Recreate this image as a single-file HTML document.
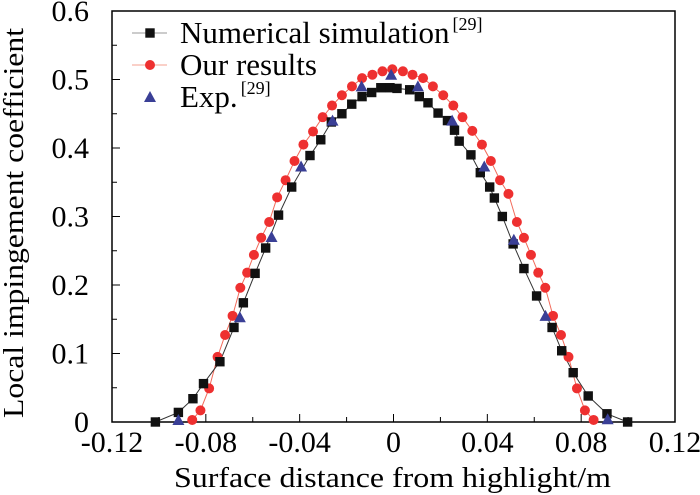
<!DOCTYPE html>
<html><head><meta charset="utf-8"><style>
body{margin:0;background:#fff;}
svg{display:block;}
text{font-family:"Liberation Serif","DejaVu Serif",serif;}
</style></head><body>
<svg id="chart" width="700" height="495" font-family="Liberation Serif, serif"></svg>
<script>
const xTicks=[-0.12,-0.08,-0.04,0,0.04,0.08,0.12];
const xTickLabels=["-0.12","-0.08","-0.04","0","0.04","0.08","0.12"];
const yTicks=[0,0.1,0.2,0.3,0.4,0.5,0.6];
const yTickLabels=["0","0.1","0.2","0.3","0.4","0.5","0.6"];
const numX=[-0.1015,-0.0917,-0.0855,-0.081,-0.074,-0.068,-0.064,-0.059,-0.0545,-0.049,-0.0434,-0.0356,-0.031,-0.0265,-0.022,-0.0178,-0.0134,-0.0093,-0.0054,-0.0015,0.0015,0.0069,0.011,0.0147,0.019,0.023,0.026,0.028,0.033,0.037,0.041,0.043,0.0464,0.051,0.0556,0.061,0.0676,0.0717,0.0766,0.083,0.091,0.0998];
const numY=[0,0.014,0.034,0.056,0.088,0.138,0.174,0.217,0.254,0.302,0.343,0.389,0.412,0.438,0.45,0.464,0.475,0.481,0.488,0.488,0.487,0.485,0.475,0.466,0.451,0.44,0.426,0.41,0.39,0.364,0.343,0.327,0.3,0.26,0.224,0.184,0.138,0.104,0.072,0.038,0.012,0];
const ourX=[-0.0858,-0.0823,-0.0786,-0.075,-0.0718,-0.0686,-0.0653,-0.0624,-0.0595,-0.0564,-0.053,-0.0496,-0.046,-0.0422,-0.0384,-0.0343,-0.0302,-0.0262,-0.022,-0.0177,-0.0134,-0.009,-0.0047,-0.0005,0.004,0.0081,0.0126,0.0168,0.0212,0.0255,0.0294,0.0336,0.0377,0.0415,0.0454,0.049,0.0526,0.0556,0.0586,0.0617,0.0647,0.068,0.0714,0.0746,0.0782,0.0816,0.0853];
const ourY=[0.003,0.017,0.049,0.095,0.127,0.155,0.196,0.218,0.244,0.269,0.292,0.328,0.353,0.381,0.405,0.424,0.445,0.462,0.477,0.49,0.502,0.507,0.512,0.515,0.512,0.507,0.502,0.49,0.477,0.462,0.445,0.425,0.405,0.381,0.353,0.333,0.292,0.269,0.244,0.218,0.196,0.155,0.127,0.095,0.049,0.017,0.003];
const expX=[-0.0917,-0.0655,-0.052,-0.0394,-0.026,-0.0136,-0.001,0.0104,0.025,0.0387,0.0513,0.0648,0.0913];
const expY=[0.003,0.153,0.27,0.373,0.44,0.49,0.507,0.49,0.44,0.373,0.266,0.155,0.004];

const svg=document.getElementById('chart');
const NS='http://www.w3.org/2000/svg';
const L=112,R=675,T=11,B=422;
const sx=v=>L+(v+0.12)/0.24*(R-L);
const sy=v=>B-v/0.6*(B-T);
function mk(tag,attrs,parent){const e=document.createElementNS(NS,tag);for(const k in attrs)e.setAttribute(k,attrs[k]);(parent||svg).appendChild(e);return e;}

const frame=mk('rect',{x:L,y:T,width:R-L,height:B-T,fill:'none',stroke:'#000','stroke-width':1.5});



for(let k=0;k<=12;k++){
  const v=-0.12+k*0.02;const major=k%2===0;
  const t=mk('line',{x1:sx(v),x2:sx(v),y1:B,y2:B-(major?8:5),stroke:'#000','stroke-width':1});
  
  
}
xTicks.forEach((v,i)=>{
  const t=mk('text',{x:sx(v),y:452,'text-anchor':'middle','font-size':30});
  t.textContent=xTickLabels[i];
  
  
});
for(let k=0;k<=12;k++){
  const v=k*0.05;const major=k%2===0;
  const t=mk('line',{x1:L,x2:L+(major?8:5),y1:sy(v),y2:sy(v),stroke:'#000','stroke-width':1});
  
  
}
yTicks.forEach((v,i)=>{
  const t=mk('text',{x:89,y:sy(v)+10,'text-anchor':'end','font-size':30});
  t.textContent=yTickLabels[i];
  
  
});
const xt=mk('text',{x:174,y:487,'font-size':29,textLength:437,lengthAdjust:'spacingAndGlyphs'});
xt.textContent='Surface distance from highlight/m';


const yt=mk('text',{x:0,y:0,'font-size':29,textLength:390,lengthAdjust:'spacingAndGlyphs',transform:'translate(23,418) rotate(-90)'});
yt.textContent='Local impingement coefficient';



function line(xs,ys,color,name){
  const p=mk('polyline',{points:xs.map((x,i)=>sx(x)+','+sy(ys[i])).join(' '),fill:'none',stroke:color,'stroke-width':1});
  
  
}
function square(x,y,name){const e=mk('rect',{x:x-4.7,y:y-4.7,width:9.4,height:9.4,fill:'#111'});
  
  }
function circle(x,y,name){const e=mk('circle',{cx:x,cy:y,r:5,fill:'#ee3030'});
  
  }
function tri(x,y,name){const e=mk('polygon',{points:`${x},${y-6} ${x-6},${y+5} ${x+6},${y+5}`,fill:'#3a3f96'});
  
  }

line(ourX,ourY,'#f26a5a','our-results-line');
line(numX,numY,'#333','numerical-line');
ourX.forEach((x,i)=>circle(sx(x),sy(ourY[i]),'our-results-point'));
numX.forEach((x,i)=>square(sx(x),sy(numY[i]),'numerical-point'));
expX.forEach((x,i)=>tri(sx(x),sy(expY[i]),'exp-point'));

const lg=[['Numerical simulation','[29]','num'],['Our results','','our'],['Exp.','[29]','exp']];
lg.forEach((d,i)=>{
  const y=33+i*32;
  if(d[2]!=='exp'){
    const l=mk('line',{x1:132,x2:167,y1:y,y2:y,stroke:d[2]==='num'?'#999':'#f5a090','stroke-width':1});
    
    
  }
  if(d[2]==='num')square(150,y,'legend-marker');
  else if(d[2]==='our')circle(150,y,'legend-marker');
  else tri(150,y,'legend-marker');
  const t=mk('text',{x:180,y:y+10,'font-size':31});
  t.textContent=d[0];
  if(d[1]){const s=mk('tspan',{'font-size':18,dy:-13,dx:3},t);s.textContent=d[1];}
  
  
});
</script>
</body></html>
